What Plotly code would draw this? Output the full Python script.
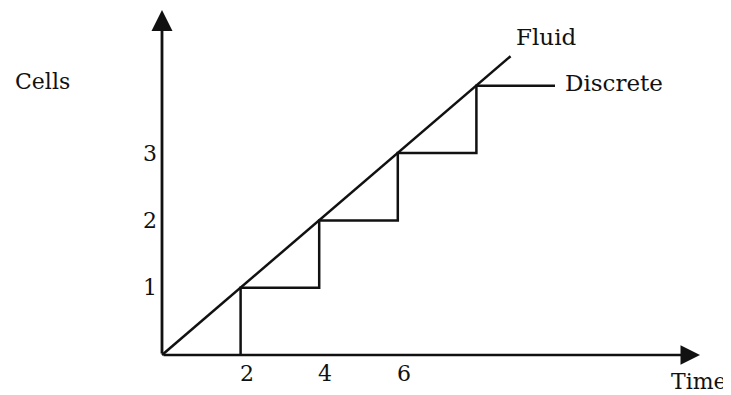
import plotly.graph_objects as go

# Data
fluid_x = [0, 8.87]
fluid_y = [0, 4.44]
discrete_x = [2, 2, 4, 4, 6, 6, 8, 8, 10.0]
discrete_y = [0, 1, 1, 2, 2, 3, 3, 4, 4]
x_ticks = [2, 4, 6]
x_tick_labels = ["2", "4", "6"]
y_ticks = [1, 2, 3]
y_tick_labels = ["1", "2", "3"]

# The page body has an 8px margin, so the figure is drawn 8px in from the corner.
PAGE_OFF = 8
W, H = 731 - PAGE_OFF, 395 - PAGE_OFF
ox, oy = 162 - PAGE_OFF, 355 - PAGE_OFF   # pixel origin inside the figure
sx, sy = 39.3, 67.3                       # pixels per unit

xr = [-ox / sx, (W - ox) / sx]
yr = [-(H - oy) / sy, oy / sy]

FONT = "DejaVu Serif"
black = "#111111"
LW = 2.5

fig = go.Figure()
fig.add_trace(go.Scatter(x=fluid_x, y=fluid_y, mode="lines",
                         line=dict(color=black, width=LW), hoverinfo="skip"))
fig.add_trace(go.Scatter(x=discrete_x, y=discrete_y, mode="lines",
                         line=dict(color=black, width=LW), hoverinfo="skip"))

ann = []
# axes with arrows
x_tip = (700 - 162) / sx
y_tip = (355 - 10) / sy
ann.append(dict(x=x_tip, y=0, ax=0, ay=0, xref="x", yref="y", axref="x", ayref="y",
                showarrow=True, arrowhead=2, arrowsize=1.5, arrowwidth=2.6,
                arrowcolor=black, text=""))
ann.append(dict(x=0, y=y_tip, ax=0, ay=0, xref="x", yref="y", axref="x", ayref="y",
                showarrow=True, arrowhead=2, arrowsize=1.5, arrowwidth=2.8,
                arrowcolor=black, text=""))

for v, t in zip(x_ticks, x_tick_labels):
    ann.append(dict(x=v, y=0, xref="x", yref="y", text=t, showarrow=False,
                    xanchor="center", yanchor="top", xshift=6, yshift=-4,
                    font=dict(family=FONT, size=22, color=black)))
for v, t in zip(y_ticks, y_tick_labels):
    ann.append(dict(x=0, y=v, xref="x", yref="y", text=t, showarrow=False,
                    xanchor="right", yanchor="middle", xshift=-3,
                    font=dict(family=FONT, size=22, color=black)))

ann.append(dict(x=9.77, y=4.725, xref="x", yref="y", text="Fluid", showarrow=False,
                xanchor="center", yanchor="middle",
                font=dict(family=FONT, size=23, color=black)))
ann.append(dict(x=10.2, y=4.04, xref="x", yref="y", text="Discrete", showarrow=False,
                xanchor="left", yanchor="middle",
                font=dict(family=FONT, size=23, color=black)))
ann.append(dict(x=13.66, y=-0.40, xref="x", yref="y", text="Time", showarrow=False,
                xanchor="center", yanchor="middle",
                font=dict(family=FONT, size=22, color=black)))
ann.append(dict(x=-3.05, y=4.06, xref="x", yref="y", text="Cells", showarrow=False,
                xanchor="center", yanchor="middle",
                font=dict(family=FONT, size=22, color=black)))

fig.update_layout(
    width=W, height=H, margin=dict(l=0, r=0, t=0, b=0),
    paper_bgcolor="white", plot_bgcolor="white", showlegend=False,
    xaxis=dict(range=xr, visible=False, fixedrange=True),
    yaxis=dict(range=yr, visible=False, fixedrange=True),
    annotations=ann,
)
fig.write_html("out.html")
